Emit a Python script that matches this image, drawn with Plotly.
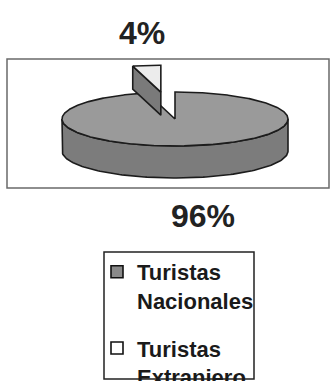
import numpy as np
import plotly.graph_objects as go

# ---- data ----
labels = ["Turistas<br>Nacionales", "Turistas<br>Extranjero"]
values = [96, 4]
pct_labels = ["96%", "4%"]
top_colors = ["#9a9a9a", "#ececec"]
side_colors = ["#7c7c7c", "#7a7a7a"]
legend_colors = ["#8a8a8a", "#ffffff"]
exploded = [0.0, 1.0]

# ---- figure geometry (style constants) ----
W, H = 331, 381
CX, CY = 175.0, 119.0       # pie centre in px
RX, RY = 113.0, 27.0        # ellipse radii in px
DEPTH = 32.0                # main pie thickness px
SLICE_DEPTH = 23.0          # thickness of exploded slice (perspective)
OUTLINE = "#1c1c1c"
FONT = "Liberation Sans, Arial, sans-serif"

# axes: 1 unit = RX px, origin at pie centre
x_range = [-CX / RX, (W - CX) / RX]
y_range = [-(H - CY) / RX, CY / RX]
ry = RY / RX
dep = DEPTH / RX
sdep = SLICE_DEPTH / RX


def ell(theta_deg, ox=0.0, oy=0.0, dz=0.0):
    t = np.radians(theta_deg)
    return ox + np.sin(t), oy + ry * np.cos(t) - dz


fig = go.Figure()

total = sum(values)
starts = np.cumsum([0] + values[:-1]) / total * 360.0
ends = np.cumsum(values) / total * 360.0

# draw main (non exploded) slices first, then exploded ones
order = sorted(range(len(values)), key=lambda i: exploded[i])
for i in order:
    a0, a1 = starts[i], ends[i]
    mid = (a0 + a1) / 2
    ox = exploded[i] * np.sin(np.radians(mid))
    oy = exploded[i] * ry * np.cos(np.radians(mid))
    d = dep if exploded[i] == 0 else sdep

    # front side band (visible from 90..270 deg)
    s0, s1 = max(a0, 90.0), min(a1, 270.0)
    if s1 > s0:
        th = np.linspace(s0, s1, 120)
        xt, yt = ell(th, ox, oy)
        xb, yb = ell(th[::-1], ox, oy, d)
        fig.add_trace(go.Scatter(
            x=np.concatenate([xt, xb, xt[:1]]),
            y=np.concatenate([yt, yb, yt[:1]]),
            fill="toself", fillcolor=side_colors[i], mode="lines",
            line=dict(color=OUTLINE, width=1.6), hoverinfo="skip",
            showlegend=False))

    # radial face at start edge (visible for exploded slice near the back)
    if exploded[i] > 0:
        px_, py_ = ell(a0, ox, oy)
        fig.add_trace(go.Scatter(
            x=[px_, ox, ox, px_, px_],
            y=[py_, oy, oy - d, py_ - d, py_],
            fill="toself", fillcolor=side_colors[i], mode="lines",
            line=dict(color=OUTLINE, width=1.6), hoverinfo="skip",
            showlegend=False))

    # top face
    th = np.linspace(a0, a1, max(8, int((a1 - a0) * 2)))
    xt, yt = ell(th, ox, oy)
    fig.add_trace(go.Scatter(
        x=np.concatenate([[ox], xt, [ox]]),
        y=np.concatenate([[oy], yt, [oy]]),
        fill="toself", fillcolor=top_colors[i], mode="lines",
        line=dict(color=OUTLINE, width=1.6), hoverinfo="skip",
        showlegend=False))

# legend entries
for i, lab in enumerate(labels):
    fig.add_trace(go.Scatter(
        x=[None], y=[None], mode="markers", name="<b>" + lab + "</b>",
        legendgroup=str(i),
        marker=dict(symbol="square", size=12, color=legend_colors[i],
                    line=dict(color="#111111", width=1.6))))


def px2paper(x, y):
    return x / W, 1 - y / H


# percentage labels
label_pos = {"4%": (142, 33), "96%": (203, 216)}
annotations = []
for t in pct_labels:
    xp, yp = px2paper(*label_pos[t])
    annotations.append(dict(
        x=xp, y=yp, xref="paper", yref="paper", text="<b>" + t + "</b>",
        showarrow=False, xanchor="center", yanchor="middle",
        font=dict(family=FONT, size=32, color="#222222")))

fx0, fy0 = px2paper(7, 59)
fx1, fy1 = px2paper(329, 188)
lx0, ly0 = px2paper(104, 252)
lx1, ly1 = px2paper(254, 379)
lgx, lgy = px2paper(97, 251)

fig.update_layout(
    width=W, height=H,
    margin=dict(l=0, r=0, t=0, b=0, autoexpand=False),
    paper_bgcolor="white", plot_bgcolor="white",
    xaxis=dict(range=x_range, visible=False, fixedrange=True),
    yaxis=dict(range=y_range, visible=False, fixedrange=True),
    annotations=annotations,
    shapes=[
        dict(type="rect", xref="paper", yref="paper", x0=fx0, y0=fy0,
             x1=fx1, y1=fy1, line=dict(color="#6a6a6a", width=1.5),
             layer="below"),
        dict(type="rect", xref="paper", yref="paper", x0=lx0, y0=ly0,
             x1=lx1, y1=ly1, line=dict(color="#222222", width=1.5)),
    ],
    showlegend=True,
    legend=dict(x=lgx, y=lgy, xanchor="left", yanchor="top",
                bgcolor="rgba(0,0,0,0)", borderwidth=0, valign="top",
                traceorder="grouped", tracegroupgap=16,
                font=dict(family=FONT, size=22, color="#1a1a1a")),
)

fig.write_html("out.html")
